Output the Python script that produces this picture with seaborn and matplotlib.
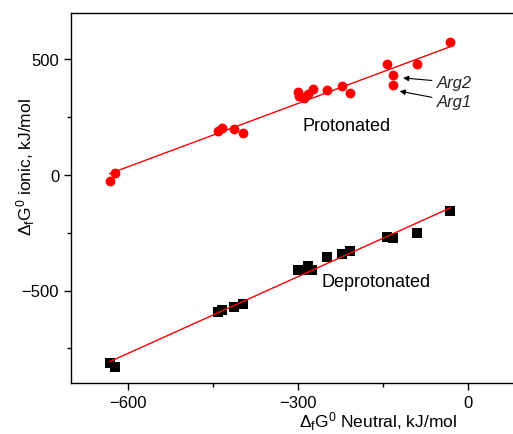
import matplotlib
matplotlib.use("Agg")
import matplotlib.pyplot as plt
import seaborn as sns
import numpy as np
import pandas as pd
from matplotlib.ticker import MultipleLocator

# Data
prot_x = [-632, -622, -440, -434, -412, -396, -300, -297, -289, -281, -273,
          -249, -222, -207, -143, -131, -131, -89, -30.5]
prot_y = [-27, 10, 188, 203, 198, 182, 359, 343, 333, 350, 371,
          366, 384, 356, 479, 432, 390, 479, 574]
deprot_x = [-632, -622, -440, -434, -412, -397, -300, -289, -281, -274,
            -249, -222, -207, -143, -131, -89, -30.5]
deprot_y = [-812, -831, -592, -584, -570, -558, -410, -413, -394, -411,
            -355, -341, -329, -267, -274, -253, -156]

x_ticks = [-600, -300, 0]
y_ticks = [-500, 0, 500]

sns.set_theme(style="ticks")
plt.rcParams['font.family'] = ['Liberation Sans', 'DejaVu Sans']
plt.rcParams['mathtext.fontset'] = 'custom'
plt.rcParams['mathtext.rm'] = 'Liberation Sans'
plt.rcParams['mathtext.it'] = 'Liberation Sans:italic'

fig = plt.figure(figsize=(5.13, 4.35), dpi=100)
ax = fig.add_axes([71/513, 1 - 384/435, 1 - 71/513, (384 - 14)/435])

dfp = pd.DataFrame({"x": prot_x, "y": prot_y})
dfd = pd.DataFrame({"x": deprot_x, "y": deprot_y})

sns.regplot(data=dfp, x="x", y="y", ax=ax, ci=None, truncate=True,
            marker="o", scatter_kws=dict(s=50, color="#ff0000", linewidths=0, alpha=1),
            line_kws=dict(color="#ff0000", lw=1.0))
sns.regplot(data=dfd, x="x", y="y", ax=ax, ci=None, truncate=True,
            marker="s", scatter_kws=dict(s=42, color="black", linewidths=0, alpha=1),
            line_kws=dict(color="#ff0000", lw=1.0))
for ln in ax.lines:
    ln.set_zorder(3)

ax.set_xlim(-700, 80)
ax.set_ylim(-900, 700)
ax.set_xticks(x_ticks)
ax.set_yticks(y_ticks)
ax.xaxis.set_minor_locator(MultipleLocator(150))
ax.yaxis.set_minor_locator(MultipleLocator(250))
ax.tick_params(which="major", direction="out", length=5, width=1, labelsize=12, color="black", labelcolor="black")
ax.tick_params(which="minor", direction="out", length=3, width=1, color="black")
ax.tick_params(axis="x", which="both", top=False)
for s in ["left", "bottom", "top"]:
    ax.spines[s].set_color("black")
    ax.spines[s].set_linewidth(1.0)
ax.spines["right"].set_visible(False)

ax.set_xlabel(r"$\mathregular{\Delta_f G^0}$ Neutral, kJ/mol", fontsize=12.5, color="black")
ax.set_ylabel(r"$\mathregular{\Delta_f G^0}$ ionic, kJ/mol", fontsize=12.5, color="black")
ax.xaxis.set_label_coords(0.695, -0.072)
ax.yaxis.set_label_coords(-0.078, 0.586)

ax.text(-213, 215, "Protonated", fontsize=13, ha="center", va="center", color="black")
ax.text(-161, -463, "Deprotonated", fontsize=13, ha="center", va="center", color="black")

ax.annotate("Arg2", xy=(-114, 419), xytext=(-55, 400), fontsize=12, style="italic",
            ha="left", va="center",
            arrowprops=dict(arrowstyle="-|>", color="black", lw=0.8, mutation_scale=8,
                            shrinkA=1, shrinkB=0))
ax.annotate("Arg1", xy=(-120, 362), xytext=(-55, 317), fontsize=12, style="italic",
            ha="left", va="center",
            arrowprops=dict(arrowstyle="-|>", color="black", lw=0.8, mutation_scale=8,
                            shrinkA=1, shrinkB=0))

fig.savefig("out.png", dpi=100)
